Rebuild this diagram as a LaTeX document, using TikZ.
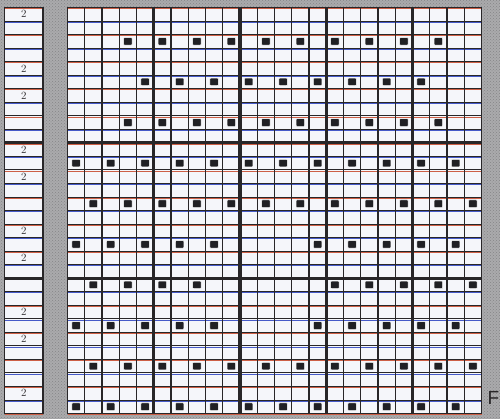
\documentclass[tikz,border=0pt]{standalone}
\usepackage{fontspec}
\setsansfont{Liberation Sans}
\usetikzlibrary{patterns}
\definecolor{bggray}{RGB}{170,170,172}
\definecolor{cellwhite}{RGB}{245,246,250}
\definecolor{linedark}{RGB}{40,38,40}
\definecolor{fringered}{RGB}{205,95,70}
\definecolor{fringeblue}{RGB}{70,90,200}
\definecolor{dotcol}{RGB}{32,32,36}
\begin{document}
\begin{tikzpicture}[x=1pt,y=-1pt,
  thinv/.style={draw=linedark, line width=1.3pt},
  thickv/.style={draw=linedark, line width=3.2pt},
  hline/.style={draw=linedark, line width=0.8pt},
  fringe/.style={line width=0.6pt},
  stitch/.style={fill=dotcol, draw=white, line width=0.4pt, rounded corners=0.8pt, minimum width=8.5pt, minimum height=7.5pt, inner sep=0pt},
  rowlabel/.style={font=\fontsize{11}{11}\selectfont, text=linedark, inner sep=0pt}
]
\useasboundingbox (0,0) rectangle (500,419);
\clip (0,0) rectangle (500,419);
% background
\fill[bggray] (0,0) rectangle (500,419);
\fill[pattern=crosshatch dots, pattern color=gray!50!black, opacity=0.35] (0,0) rectangle (500,419);
% cells
\fill[cellwhite] (67.5,7.5) rectangle (481.5,413.5);
\fill[cellwhite] (4.5,7.5) rectangle (43,413.5);
% horizontal lines
\foreach \r in {0,...,30}{
  \pgfmathsetmacro{\yy}{7.5+\r*13.533}
  \pgfmathtruncatemacro{\m}{mod(\r,2)}
  \ifnum\m=0
    \draw[fringe, fringered] (67.5,\yy+1.1) -- (481.5,\yy+1.1);
    \draw[fringe, fringered] (4.5,\yy+1.1) -- (43,\yy+1.1);
  \else
    \draw[fringe, fringeblue] (67.5,\yy+1.1) -- (481.5,\yy+1.1);
    \draw[fringe, fringeblue] (4.5,\yy+1.1) -- (43,\yy+1.1);
  \fi
  \draw[hline] (67.5,\yy) -- (481.5,\yy);
  \draw[hline] (4.5,\yy) -- (43,\yy);
}
% thick horizontals
\foreach \r in {10,20}{
  \pgfmathsetmacro{\yy}{7.5+\r*13.533}
  \draw[thickv] (67.5,\yy) -- (481.5,\yy);
  \draw[thickv] (4.5,\yy) -- (43,\yy);
}
% vertical lines
\foreach \c in {0,...,24}{
  \pgfmathsetmacro{\xx}{67.5+\c*17.25}
  \draw[thinv] (\xx,7.5) -- (\xx,413.5);
}
\foreach \c in {5,10,15,20}{
  \pgfmathsetmacro{\xx}{67.5+\c*17.25}
  \draw[thickv] (\xx,7.5) -- (\xx,413.5);
}
% outer borders
\draw[linedark, line width=1.6pt] (67.5,7.5) rectangle (481.5,413.5);
\draw[linedark, line width=1.6pt] (4.5,7.5) rectangle (43,413.5);
% stitches
\foreach \r/\cols in {
  3/{4,6,...,22},
  6/{5,7,...,21},
  9/{4,6,...,22},
  12/{1,3,...,23},
  15/{2,4,...,24},
  18/{1,3,5,7,9,15,17,19,21,23},
  21/{2,4,6,8,16,18,20,22,24},
  24/{1,3,5,7,9,15,17,19,21,23},
  27/{2,4,...,24},
  30/{1,3,...,23}}{
  \foreach \c in \cols{
    \node[stitch] (s-\r-\c) at ({67.5+(\c-0.5)*17.25},{7.5+(\r-0.5)*13.533}) {};
  }
}
% row labels
\foreach \r in {1,5,7,11,13,17,19,23,25,29}{
  \node[rowlabel] (l-\r) at (23.8,{7.5+(\r-0.5)*13.533}) {2};
}
% letter at bottom right edge
\node[font=\sffamily\fontsize{19}{19}\selectfont, text=linedark, anchor=north west, inner sep=0pt] (edge) at (487.5,391.5) {F};
\end{tikzpicture}
\end{document}
